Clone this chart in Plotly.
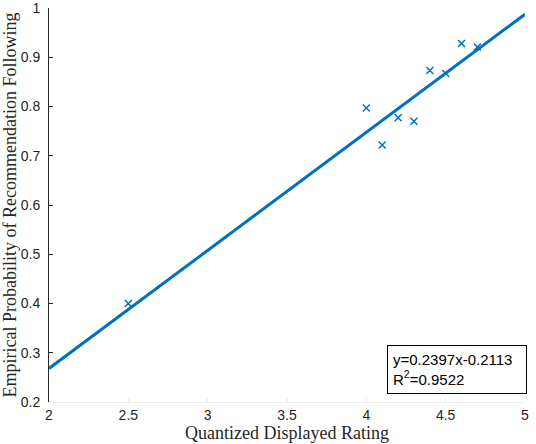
import plotly.graph_objects as go

x_data = [2.5, 4.0, 4.1, 4.2, 4.3, 4.4, 4.5, 4.6, 4.7]
y_data = [0.400, 0.797, 0.722, 0.777, 0.770, 0.873, 0.867, 0.928, 0.921]
slope = 0.2397
intercept = -0.2113
fit_x = [2, 5]
fit_y = [slope * v + intercept for v in fit_x]
x_ticks = [2, 2.5, 3, 3.5, 4, 4.5, 5]
y_ticks = [0.2, 0.3, 0.4, 0.5, 0.6, 0.7, 0.8, 0.9, 1]

blue = "#0072BD"
fig = go.Figure()
fig.add_trace(go.Scatter(x=x_data, y=y_data, mode="markers",
                         marker=dict(symbol="x-thin", size=7, color=blue,
                                     line=dict(width=1.5, color=blue)),
                         showlegend=False))
fig.add_trace(go.Scatter(x=fit_x, y=fit_y, mode="lines",
                         line=dict(color=blue, width=3), showlegend=False))

fig.add_annotation(x=0.71, y=0.02, xref="paper", yref="paper", xanchor="left", yanchor="bottom",
                   text="y=0.2397x-0.2113<br>R<sup>2</sup>=0.9522", showarrow=False, align="left",
                   width=128,
                   font=dict(family="Liberation Sans, Arial", size=15, color="black"),
                   bordercolor="black", borderwidth=1, bgcolor="white", borderpad=5)

fig.update_layout(
    width=536, height=444,
    margin=dict(l=49, r=11, t=8, b=42),
    plot_bgcolor="white", paper_bgcolor="white",
    xaxis=dict(range=[2, 5], tickvals=x_ticks, ticktext=[str(v) for v in x_ticks],
               automargin=False, ticklabeloverflow="allow",
               showgrid=False, zeroline=False, showline=True, linecolor="#ececec",
               ticks="inside", ticklen=4, tickcolor="#ececec",
               tickfont=dict(family="Liberation Sans, Arial", size=14, color="#262626"),
               title=dict(text="Quantized Displayed Rating", standoff=2,
                          font=dict(family="Liberation Serif, DejaVu Serif", size=18, color="#262626"))),
    yaxis=dict(range=[0.2, 1], tickvals=y_ticks, ticktext=["0.2", "0.3", "0.4", "0.5", "0.6", "0.7", "0.8", "0.9", "1"],
               automargin=False, ticklabeloverflow="allow", ticklabelstandoff=5,
               showgrid=False, zeroline=False, showline=True, linecolor="#262626", linewidth=1,
               ticks="inside", ticklen=4, tickcolor="#262626",
               tickfont=dict(family="Liberation Sans, Arial", size=14, color="#262626"),
               title=dict(text="Empirical Probability of Recommendation Following", standoff=2,
                          font=dict(family="Liberation Serif, DejaVu Serif", size=18, color="#262626"))),
)
fig.write_html("out.html", config={"displayModeBar": False},
               post_script="document.body.style.margin='0';")
